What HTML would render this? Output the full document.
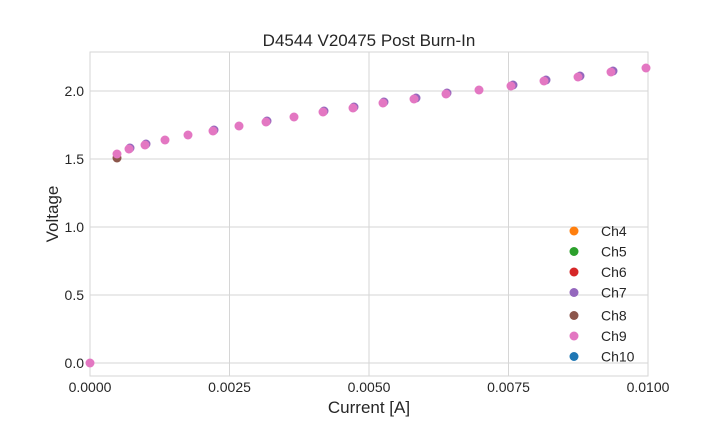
<!DOCTYPE html>
<html><head><style>body{margin:0;background:#fff}</style></head><body>
<svg width="720" height="432" xmlns="http://www.w3.org/2000/svg" font-family="Liberation Sans, DejaVu Sans, sans-serif">
<rect width="720" height="432" fill="#fff"/>
<g stroke="#d6d6d6" stroke-width="1">
<line x1="229.5" y1="52" x2="229.5" y2="376"/><line x1="369" y1="52" x2="369" y2="376"/><line x1="508.5" y1="52" x2="508.5" y2="376"/>
<line x1="90" y1="363" x2="648" y2="363"/><line x1="90" y1="295" x2="648" y2="295"/><line x1="90" y1="227" x2="648" y2="227"/><line x1="90" y1="159" x2="648" y2="159"/><line x1="90" y1="91" x2="648" y2="91"/>
<rect x="90" y="52" width="558" height="324" fill="none"/>
</g>
<g>
<circle cx="117" cy="158" r="4.5" fill="#8c564b"/>
<circle cx="130" cy="148" r="4.5" fill="#9467bd"/>
<circle cx="146" cy="144" r="4.5" fill="#9467bd"/>
<circle cx="214" cy="130" r="4.5" fill="#9467bd"/>
<circle cx="267" cy="121" r="4.5" fill="#9467bd"/>
<circle cx="324" cy="111" r="4.5" fill="#9467bd"/>
<circle cx="354" cy="107" r="4.5" fill="#9467bd"/>
<circle cx="384" cy="102" r="4.5" fill="#9467bd"/>
<circle cx="416" cy="98" r="4.5" fill="#9467bd"/>
<circle cx="447" cy="93" r="4.5" fill="#9467bd"/>
<circle cx="513" cy="85" r="4.5" fill="#9467bd"/>
<circle cx="546" cy="80" r="4.5" fill="#9467bd"/>
<circle cx="580" cy="76" r="4.5" fill="#9467bd"/>
<circle cx="613" cy="71" r="4.5" fill="#9467bd"/>
</g>
<g fill="#e377c2">
<circle cx="90" cy="363" r="4.5"/><circle cx="117" cy="154" r="4.5"/><circle cx="129" cy="149" r="4.5"/><circle cx="145" cy="145" r="4.5"/><circle cx="165" cy="140" r="4.5"/><circle cx="188" cy="135" r="4.5"/><circle cx="213" cy="131" r="4.5"/><circle cx="239" cy="126" r="4.5"/><circle cx="266" cy="122" r="4.5"/><circle cx="294" cy="117" r="4.5"/><circle cx="323" cy="112" r="4.5"/><circle cx="353" cy="108" r="4.5"/><circle cx="383" cy="103" r="4.5"/><circle cx="414" cy="99" r="4.5"/><circle cx="446" cy="94" r="4.5"/><circle cx="479" cy="90" r="4.5"/><circle cx="511" cy="86" r="4.5"/><circle cx="544" cy="81" r="4.5"/><circle cx="578" cy="77" r="4.5"/><circle cx="611" cy="72" r="4.5"/><circle cx="646" cy="68" r="4.5"/>
</g>
<text x="369" y="46" text-anchor="middle" font-size="17" fill="#262626">D4544 V20475 Post Burn-In</text>
<g font-size="14" fill="#262626" text-anchor="end">
<text x="84" y="368">0.0</text><text x="84" y="300">0.5</text><text x="84" y="232">1.0</text><text x="84" y="164">1.5</text><text x="84" y="96">2.0</text>
</g>
<g font-size="14" fill="#262626" text-anchor="middle">
<text x="90" y="392">0.0000</text><text x="229.5" y="392">0.0025</text><text x="369" y="392">0.0050</text><text x="508.5" y="392">0.0075</text><text x="648" y="392">0.0100</text>
</g>
<text x="369" y="413" text-anchor="middle" font-size="17" fill="#262626">Current [A]</text>
<text transform="translate(58,214) rotate(-90)" text-anchor="middle" font-size="17" fill="#262626">Voltage</text>
<g font-size="14" fill="#262626">
<circle cx="574" cy="231" r="4.5" fill="#ff7f0e"/><text x="601" y="236">Ch4</text>
<circle cx="574" cy="251.5" r="4.5" fill="#2ca02c"/><text x="601" y="256.5">Ch5</text>
<circle cx="574" cy="272" r="4.5" fill="#d62728"/><text x="601" y="277">Ch6</text>
<circle cx="574" cy="292.5" r="4.5" fill="#9467bd"/><text x="601" y="297.5">Ch7</text>
<circle cx="574" cy="315.5" r="4.5" fill="#8c564b"/><text x="601" y="320.5">Ch8</text>
<circle cx="574" cy="336" r="4.5" fill="#e377c2"/><text x="601" y="341">Ch9</text>
<circle cx="574" cy="356.5" r="4.5" fill="#1f77b4"/><text x="601" y="361.5">Ch10</text>
</g>
</svg>
</body></html>
